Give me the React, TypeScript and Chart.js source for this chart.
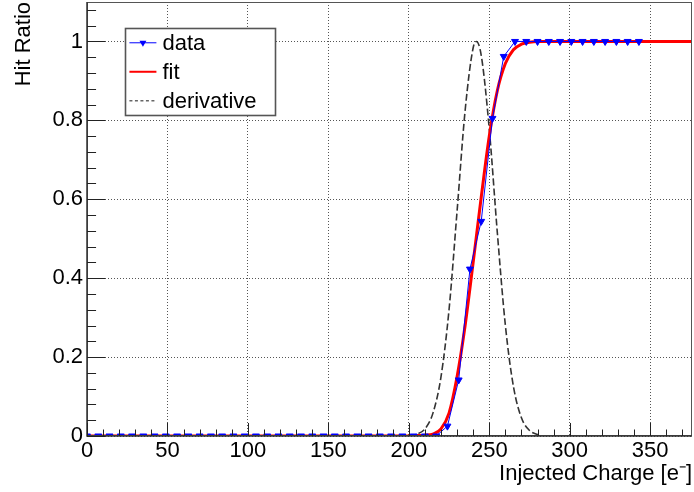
import React, { useEffect, useRef } from "react";
import { Chart, registerables } from "chart.js";

Chart.register(...registerables);

// ---------- data ----------
const dataX = [
  0, 7, 14, 21, 28, 35, 42, 49, 56, 63, 70, 77, 84, 91, 98, 105, 112, 119, 126, 133,
  140, 147, 154, 161, 168, 175, 182, 189, 196, 203, 210, 217, 224, 231, 238, 245, 252, 259, 266, 273,
  280, 287, 294, 301, 308, 315, 322, 329, 336, 343,
];
const dataY = [
  0, 0, 0, 0, 0, 0, 0, 0, 0, 0, 0, 0, 0, 0, 0, 0, 0, 0, 0, 0,
  0, 0, 0, 0, 0, 0, 0, 0, 0, 0, 0, 0, 0.025, 0.142, 0.423, 0.544, 0.805, 0.962, 1, 1,
  1, 1, 1, 1, 1, 1, 1, 1, 1, 1,
];

const fitX = [0, 200, 205, 210, 215, 220, 225, 230, 235, 240, 245, 250, 255, 260, 265, 270, 275, 280, 290, 376];
const fitY = [0, 0, 0.001, 0.002, 0.005, 0.018, 0.058, 0.15, 0.28, 0.44, 0.605, 0.76, 0.875, 0.944, 0.979, 0.993, 0.998, 1, 1, 1];

const derivX = [200, 205, 210, 215, 220, 225, 230, 235, 240, 242, 245, 250, 255, 260, 265, 270, 275, 280, 283];
const derivY = [0, 0.005, 0.018, 0.058, 0.15, 0.32, 0.57, 0.825, 0.984, 1, 0.965, 0.778, 0.516, 0.281, 0.126, 0.046, 0.014, 0.004, 0];

const seriesLabels = ["data", "fit", "derivative"];

const xMajorTicks = [0, 50, 100, 150, 200, 250, 300, 350];
const xTickLabels = ["0", "50", "100", "150", "200", "250", "300", "350"];
const yMajorTicks = [0, 0.2, 0.4, 0.6, 0.8, 1];
const yTickLabels = ["0", "0.2", "0.4", "0.6", "0.8", "1"];
const xRange = [0, 376];
const yRange = [0, 1.1];
const xTitle = "Injected Charge [e\u207B]";
const yTitle = "Hit Ratio";

const FONT = "'Liberation Sans', Arial, Helvetica, sans-serif";

// ---------- ROOT-style frame, inward ticks and boxed legend ----------
const rootStylePlugin = {
  id: "rootStyle",
  afterDraw(chart: any) {
    const { ctx, chartArea: a, scales } = chart;
    const x = scales.x;
    const y = scales.y;
    ctx.save();

    // frame
    ctx.strokeStyle = "#555";
    ctx.lineWidth = 1;
    ctx.strokeRect(a.left + 0.5, a.top + 0.5, a.width - 1, a.height - 1);
    // axes
    ctx.strokeStyle = "#333";
    ctx.lineWidth = 1.5;
    ctx.beginPath();
    ctx.moveTo(a.left, a.top);
    ctx.lineTo(a.left, a.bottom);
    ctx.lineTo(a.right, a.bottom);
    ctx.stroke();

    // inward ticks
    ctx.strokeStyle = "#222";
    ctx.lineWidth = 1;
    const xLen = a.height * 0.03;
    const yLen = a.width * 0.03;
    for (let i = 0; ; i++) {
      const v = x.min + i * 10;
      if (v > x.max + 1e-9) break;
      const px = Math.round(x.getPixelForValue(v)) + 0.5;
      const len = i % 5 === 0 ? xLen : xLen / 2;
      ctx.beginPath();
      ctx.moveTo(px, a.bottom);
      ctx.lineTo(px, a.bottom - len);
      ctx.stroke();
    }
    for (let i = 0; ; i++) {
      const v = y.min + i * 0.04;
      if (v > y.max + 1e-9) break;
      const py = Math.round(y.getPixelForValue(v)) + 0.5;
      const len = i % 5 === 0 ? yLen : yLen / 2;
      ctx.beginPath();
      ctx.moveTo(a.left, py);
      ctx.lineTo(a.left + len, py);
      ctx.stroke();
    }

    // legend box
    const bx = a.left + a.width * 0.0635;
    const by = a.top + a.height * 0.0606;
    const bw = a.width * 0.2485;
    const bh = a.height * 0.2003;
    ctx.fillStyle = "#fff";
    ctx.fillRect(bx, by, bw, bh);
    ctx.strokeStyle = "#555";
    ctx.lineWidth = 1.6;
    ctx.strokeRect(Math.round(bx) + 0.5, Math.round(by) + 0.5, Math.round(bw), Math.round(bh));

    const rowH = bh / 3;
    chart.data.datasets.forEach((ds: any, i: number) => {
      const cy = by + rowH * (i + 0.5);
      const x0 = bx + 4;
      const x1 = bx + 31;
      ctx.save();
      ctx.strokeStyle = i === 2 ? "#666" : ds.borderColor;
      ctx.lineWidth = i === 1 ? 2 : i === 2 ? 1.3 : ds.borderWidth;
      ctx.setLineDash(i === 2 ? [3, 2.5] : []);
      ctx.beginPath();
      ctx.moveTo(x0, cy);
      ctx.lineTo(x1, cy);
      ctx.stroke();
      ctx.restore();
      if (ds.pointRadius > 0) {
        const cx = (x0 + x1) / 2;
        const r = ds.pointRadius;
        ctx.fillStyle = ds.pointBackgroundColor;
        ctx.beginPath();
        ctx.moveTo(cx - r * 0.866, cy - r * 0.5);
        ctx.lineTo(cx + r * 0.866, cy - r * 0.5);
        ctx.lineTo(cx, cy + r);
        ctx.closePath();
        ctx.fill();
      }
      ctx.fillStyle = "#000";
      ctx.font = `22px ${FONT}`;
      ctx.textAlign = "left";
      ctx.textBaseline = "middle";
      ctx.fillText(ds.label, bx + 37, cy + 1);
    });

    ctx.restore();
  },
};

export default function App() {
  const canvasRef = useRef<HTMLCanvasElement | null>(null);

  useEffect(() => {
    const canvas = canvasRef.current;
    if (!canvas) return;
    const toPts = (xs: number[], ys: number[]) => xs.map((v, i) => ({ x: v, y: ys[i] }));

    const chart = new Chart(canvas, {
      type: "line",
      data: {
        datasets: [
          {
            label: seriesLabels[0],
            data: toPts(dataX, dataY),
            borderColor: "#0000ff",
            backgroundColor: "#0000ff",
            borderWidth: 1,
            pointStyle: "triangle",
            rotation: 180,
            pointRadius: 4,
            pointBackgroundColor: "#0000ff",
            pointBorderColor: "#0000ff",
            pointBorderWidth: 1,
            tension: 0,
          },
          {
            label: seriesLabels[1],
            data: toPts(fitX, fitY),
            borderColor: "#ff0000",
            borderWidth: 3,
            pointRadius: 0,
            cubicInterpolationMode: "monotone",
          },
          {
            label: seriesLabels[2],
            data: toPts(derivX, derivY),
            borderColor: "#333333",
            borderWidth: 1.6,
            borderDash: [7, 3],
            pointRadius: 0,
            cubicInterpolationMode: "monotone",
          },
        ],
      },
      options: {
        animation: false,
        responsive: false,
        devicePixelRatio: 1,
        layout: { autoPadding: false, padding: { top: 2, right: 2, left: 0, bottom: 0 } },
        plugins: { legend: { display: false }, tooltip: { enabled: false } },
        scales: {
          x: {
            type: "linear",
            min: xRange[0],
            max: xRange[1],
            afterBuildTicks: (s: any) => {
              s.ticks = xMajorTicks.map((v) => ({ value: v }));
            },
            afterFit: (s: any) => {
              s.height = 56;
              s.paddingLeft = 0;
              s.paddingRight = 0;
            },
            grid: { color: "#555", lineWidth: 1, drawTicks: false },
            border: { display: false, dash: [1, 2] },
            ticks: {
              font: { family: FONT, size: 22 },
              color: "#000",
              padding: 2,
              maxRotation: 0,
              autoSkip: false,
              callback: (_v: any, i: number) => xTickLabels[i],
            },
            title: {
              display: true,
              text: xTitle,
              align: "end",
              color: "#000",
              font: { family: FONT, size: 22 },
              padding: { top: 0, bottom: 5 },
            },
          },
          y: {
            type: "linear",
            min: yRange[0],
            max: yRange[1],
            afterBuildTicks: (s: any) => {
              s.ticks = yMajorTicks.map((v) => ({ value: v }));
            },
            afterFit: (s: any) => {
              s.width = 87;
              s.paddingTop = 0;
              s.paddingBottom = 0;
            },
            grid: { color: "#555", lineWidth: 1, drawTicks: false },
            border: { display: false, dash: [1, 2] },
            ticks: {
              font: { family: FONT, size: 22 },
              color: "#000",
              padding: 4,
              autoSkip: false,
              callback: (_v: any, i: number) => yTickLabels[i],
            },
            title: {
              display: true,
              text: yTitle,
              align: "end",
              color: "#000",
              font: { family: FONT, size: 22 },
              padding: { top: 11, bottom: 0 },
            },
          },
        },
      } as any,
      plugins: [rootStylePlugin],
    });

    return () => chart.destroy();
  }, []);

  return (
    <div style={{ position: "fixed", left: 0, top: 0, width: 694, height: 492, background: "#fff" }}>
      <canvas ref={canvasRef} width={694} height={492} style={{ display: "block" }} />
    </div>
  );
}
